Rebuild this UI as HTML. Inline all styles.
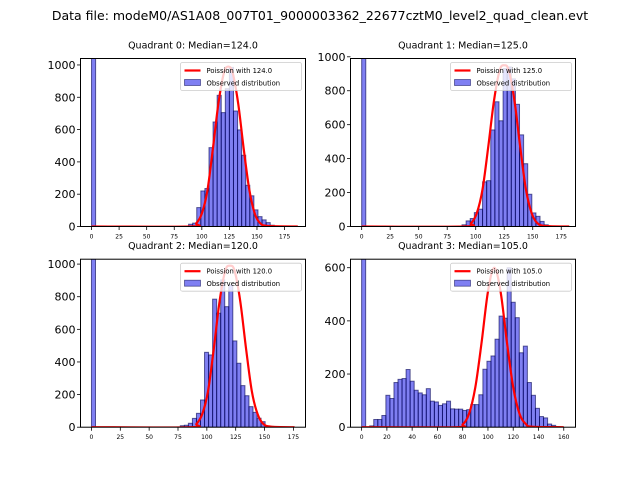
<!DOCTYPE html>
<html><head><meta charset="utf-8"><style>
body{margin:0;background:#fff}
svg text{font-family:"DejaVu Sans","Liberation Sans",sans-serif;fill:#000}
</style></head><body>
<svg id="fig" width="640" height="480" xmlns="http://www.w3.org/2000/svg">
<text x="320" y="20" font-size="12.5" text-anchor="middle">Data file: modeM0/AS1A08_007T01_9000003362_22677cztM0_level2_quad_clean.evt</text>
</svg>
<script>
// Panel data
const titles = ["Quadrant 0: Median=124.0","Quadrant 1: Median=125.0","Quadrant 2: Median=120.0","Quadrant 3: Median=105.0"];
const medians = ["124.0","125.0","120.0","105.0"];
const binStart = [88, 88, 77, 0];
const binWidth = [3.7, 3.6, 3.5, 3.2];
const zeroBin = [3000, 3000, 3000, 3000];
const counts0 = [14,21,117,220,235,488,647,812,705,853,985,715,598,441,255,190,103,61,41,24,8];
const counts1 = [10,33,47,82,102,263,270,569,735,623,930,940,870,720,540,370,190,80,60,30,10];
const counts2 = [9,12,24,54,85,167,459,443,785,699,903,739,872,529,392,255,193,126,91,55,34,8,5];
const counts3 = [0,5,29,29,44,120,108,168,180,183,217,173,139,129,122,145,98,95,82,88,98,69,68,68,63,66,85,85,122,218,248,268,331,418,410,600,470,412,280,305,168,120,71,40,35,12,7,2];
const curveX0 = [0,90,95,100,105,110,115,120,124,128,133,138,143,148,153,160,187];
const curveY0 = [0,0,20,80,220,480,760,950,990,950,760,480,230,80,20,3,0];
const curveX1 = [0,90,96,101,106,111,116,121,125,129,134,139,144,149,154,161,182];
const curveY1 = [0,0,20,80,220,470,740,920,950,920,740,470,220,80,20,3,0];
const curveX2 = [0,86,91,96,101,106,111,116,120,124,129,134,139,144,149,156,176];
const curveY2 = [0,0,20,80,220,480,770,960,990,960,770,480,220,80,20,3,0];
const curveX3 = [0,75,80,85,90,95,100,105,110,115,120,125,130,135,160];
const curveY3 = [0,0,10,50,150,320,510,600,510,320,150,50,12,2,0];
const xTicks012 = [0,25,50,75,100,125,150,175];
const xTicks3 = [0,20,40,60,80,100,120,140,160];
const yTicks012 = [0,200,400,600,800,1000];
const yTicks3 = [0,200,400,600];

const allCounts=[counts0,counts1,counts2,counts3];
const curvesX=[curveX0,curveX1,curveX2,curveX3];
const curvesY=[curveY0,curveY1,curveY2,curveY3];
const xlims=[[-10,194],[-9.8,187.5],[-9.5,185.5],[-8.8,169.3]];
const ylims=[[0,1040],[0,990],[0,1030],[0,632]];
const boxes=[[80.5,58.5],[350.5,58.5],[80.5,259.2],[350.5,259.2]];
const W=225,H=168;
const NS="http://www.w3.org/2000/svg";
const svg=document.getElementById('fig');
function mk(tag,attrs,parent){const e=document.createElementNS(NS,tag);for(const k in attrs)e.setAttribute(k,attrs[k]);(parent||svg).appendChild(e);return e;}

for(let p=0;p<4;p++){
  const [bx,by]=boxes[p];
  const [x0,x1]=xlims[p],[y0,y1]=ylims[p];
  const sx=v=>bx+(v-x0)/(x1-x0)*W;
  const sy=v=>by+H-(v-y0)/(y1-y0)*H;
  const g=mk('g',{});
  
  
  const cp=mk('clipPath',{id:'clip'+p},g);
  mk('rect',{x:bx,y:by,width:W,height:H},cp);
  const title=mk('text',{x:bx+W/2,y:by-10,'font-size':'9.5','text-anchor':'middle'},g);
  title.textContent=titles[p];
  
  
  const plot=mk('g',{'clip-path':'url(#clip'+p+')'},g);
  const bw=binWidth[p];
  const zb=mk('rect',{x:sx(0),y:sy(zeroBin[p]),width:sx(bw)-sx(0),height:sy(0)-sy(zeroBin[p]),fill:'rgba(0,0,230,0.5)',stroke:'rgba(0,0,80,0.6)','stroke-width':'1'},plot);
  
  
  const cs=allCounts[p];
  for(let i=0;i<cs.length;i++){
    const l=binStart[p]+(p===3?bw:0)+i*bw;
    const r=mk('rect',{x:sx(l),y:sy(cs[i]),width:sx(l+bw)-sx(l),height:sy(0)-sy(cs[i]),fill:'rgba(0,0,230,0.5)',stroke:'rgba(0,0,80,0.6)','stroke-width':'1'},plot);
    
    
  }
  const X=curvesX[p],Y=curvesY[p];
  const pts=X.map((v,i)=>[sx(v),sy(Y[i])]);
  let d='M'+pts[0][0]+','+pts[0][1];
  for(let i=0;i<pts.length-1;i++){
    const a=pts[Math.max(i-1,0)],b=pts[i],c=pts[i+1],e=pts[Math.min(i+2,pts.length-1)];
    const c1=[b[0]+(c[0]-a[0])/6,b[1]+(c[1]-a[1])/6],c2=[c[0]-(e[0]-b[0])/6,c[1]-(e[1]-b[1])/6];
    d+=' C'+c1+' '+c2+' '+c;
  }
  const line=mk('path',{d:d,fill:'none',stroke:'#ff0000','stroke-width':'2.2'},plot);
  
  
  const fr=mk('rect',{x:bx,y:by,width:W,height:H,fill:'none',stroke:'#000','stroke-width':'1'},g);
  
  
  const xt=p===3?xTicks3:xTicks012;
  xt.forEach(t=>{
    mk('line',{x1:sx(t),x2:sx(t),y1:by+H,y2:by+H+3.5,stroke:'#000','stroke-width':'0.8'},g);
    const tx=mk('text',{x:sx(t),y:by+H+12,'font-size':'6','text-anchor':'middle'},g);
    tx.textContent=t;
    
    
  });
  const yt=p===3?yTicks3:yTicks012;
  yt.forEach(t=>{
    mk('line',{x1:bx-3.5,x2:bx,y1:sy(t),y2:sy(t),stroke:'#000','stroke-width':'0.8'},g);
    const ty=mk('text',{x:bx-5,y:sy(t)+4,'font-size':'11','text-anchor':'end'},g);
    ty.textContent=t;
    
    
  });
  const lg=mk('g',{},g);
  
  
  const lx=bx+W-125,ly=by+4;
  mk('rect',{x:lx,y:ly,width:121,height:28,fill:'rgba(255,255,255,0.8)',stroke:'#ccc','stroke-width':'0.8',rx:'2'},lg);
  mk('line',{x1:lx+4,x2:lx+20,y1:ly+8,y2:ly+8,stroke:'#ff0000','stroke-width':'2.2'},lg);
  const t1=mk('text',{x:lx+26,y:ly+10.5,'font-size':'6.8'},lg);
  t1.textContent='Poission with '+medians[p];
  
  
  mk('rect',{x:lx+4,y:ly+17,width:16,height:6,fill:'rgba(0,0,230,0.5)',stroke:'rgba(0,0,80,0.6)','stroke-width':'0.8'},lg);
  const t2=mk('text',{x:lx+26,y:ly+23,'font-size':'6.8'},lg);
  t2.textContent='Observed distribution';
  
  
}
</script>
</body></html>
